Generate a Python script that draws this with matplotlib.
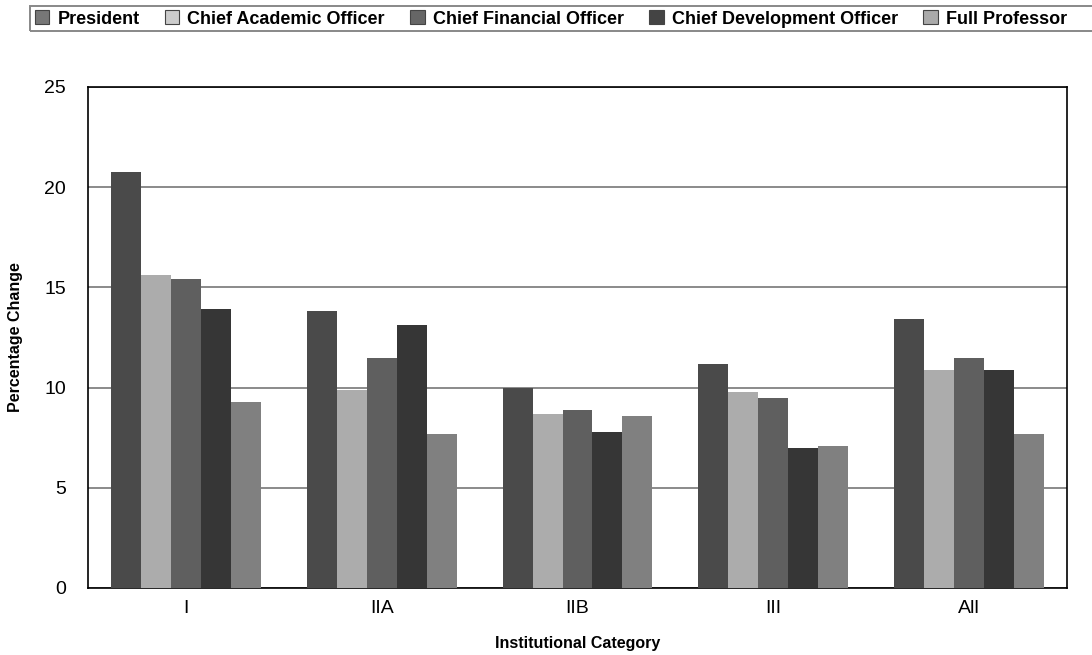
import numpy as np
import matplotlib
matplotlib.use("Agg")
import matplotlib.pyplot as plt
from matplotlib.patches import Patch, Rectangle

plt.rcParams['font.family'] = ['Liberation Sans', 'DejaVu Sans']

categories = ['I', 'IIA', 'IIB', 'III', 'All']
series = ['President', 'Chief Academic Officer', 'Chief Financial Officer',
          'Chief Development Officer', 'Full Professor']
president = [20.75, 13.8, 10.0, 11.2, 13.4]
academic = [15.6, 9.9, 8.7, 9.8, 10.9]
financial = [15.4, 11.5, 8.9, 9.5, 11.5]
development = [13.9, 13.1, 7.8, 7.0, 10.9]
professor = [9.3, 7.7, 8.6, 7.1, 7.7]
values = [president, academic, financial, development, professor]

bar_colors = ['#4a4a4a', '#acacac', '#5f5f5f', '#363636', '#808080']
legend_colors = ['#777777', '#cccccc', '#666666', '#444444', '#aaaaaa']

fig = plt.figure(figsize=(10.92, 6.55), dpi=100)
ax = fig.add_axes([0.0806, 0.1023, 0.8965, 0.7649])

x = np.arange(len(categories))
w = 0.153
for i, (vals, c) in enumerate(zip(values, bar_colors)):
    ax.bar(x + (i - 2) * w, vals, width=w, color=c, zorder=3)

ax.set_xlim(-0.5, 4.5)
ax.set_ylim(0, 25)
ax.set_yticks([0, 5, 10, 15, 20, 25])
ax.set_xticks(x)
ax.set_xticklabels(categories)
ax.tick_params(length=0, labelsize=14, pad=9)
ax.tick_params(axis='y', pad=16)
ax.yaxis.grid(True, color='#777777', linewidth=1.2, zorder=0)
for s in ['left', 'bottom', 'top', 'right']:
    ax.spines[s].set_color('black')
    ax.spines[s].set_linewidth(1.2)

ax.set_ylabel('Percentage Change', fontsize=11.5, fontweight='bold')
ax.set_xlabel('Institutional Category', fontsize=11.5, fontweight='bold')
ax.yaxis.set_label_coords(-0.066, 0.5)
ax.xaxis.set_label_coords(0.5, -0.095)

# legend box runs off the right edge
fig.patches.append(Rectangle((30 / 1092, 1 - 31 / 655), 1.2, 25 / 655,
                             transform=fig.transFigure, fill=False,
                             edgecolor='#888888', linewidth=1.4))
handles = [Patch(facecolor=c, edgecolor='#444444', linewidth=0.8) for c in legend_colors]
leg = fig.legend(handles, series, loc='center left', bbox_to_anchor=(0.032, 1 - 19 / 655),
                 ncol=5, frameon=False, prop={'weight': 'bold', 'size': 13},
                 handlelength=0.8, handleheight=0.8, handletextpad=0.45, columnspacing=1.4,
                 borderpad=0, borderaxespad=0)

fig.savefig('out.png', dpi=100)
